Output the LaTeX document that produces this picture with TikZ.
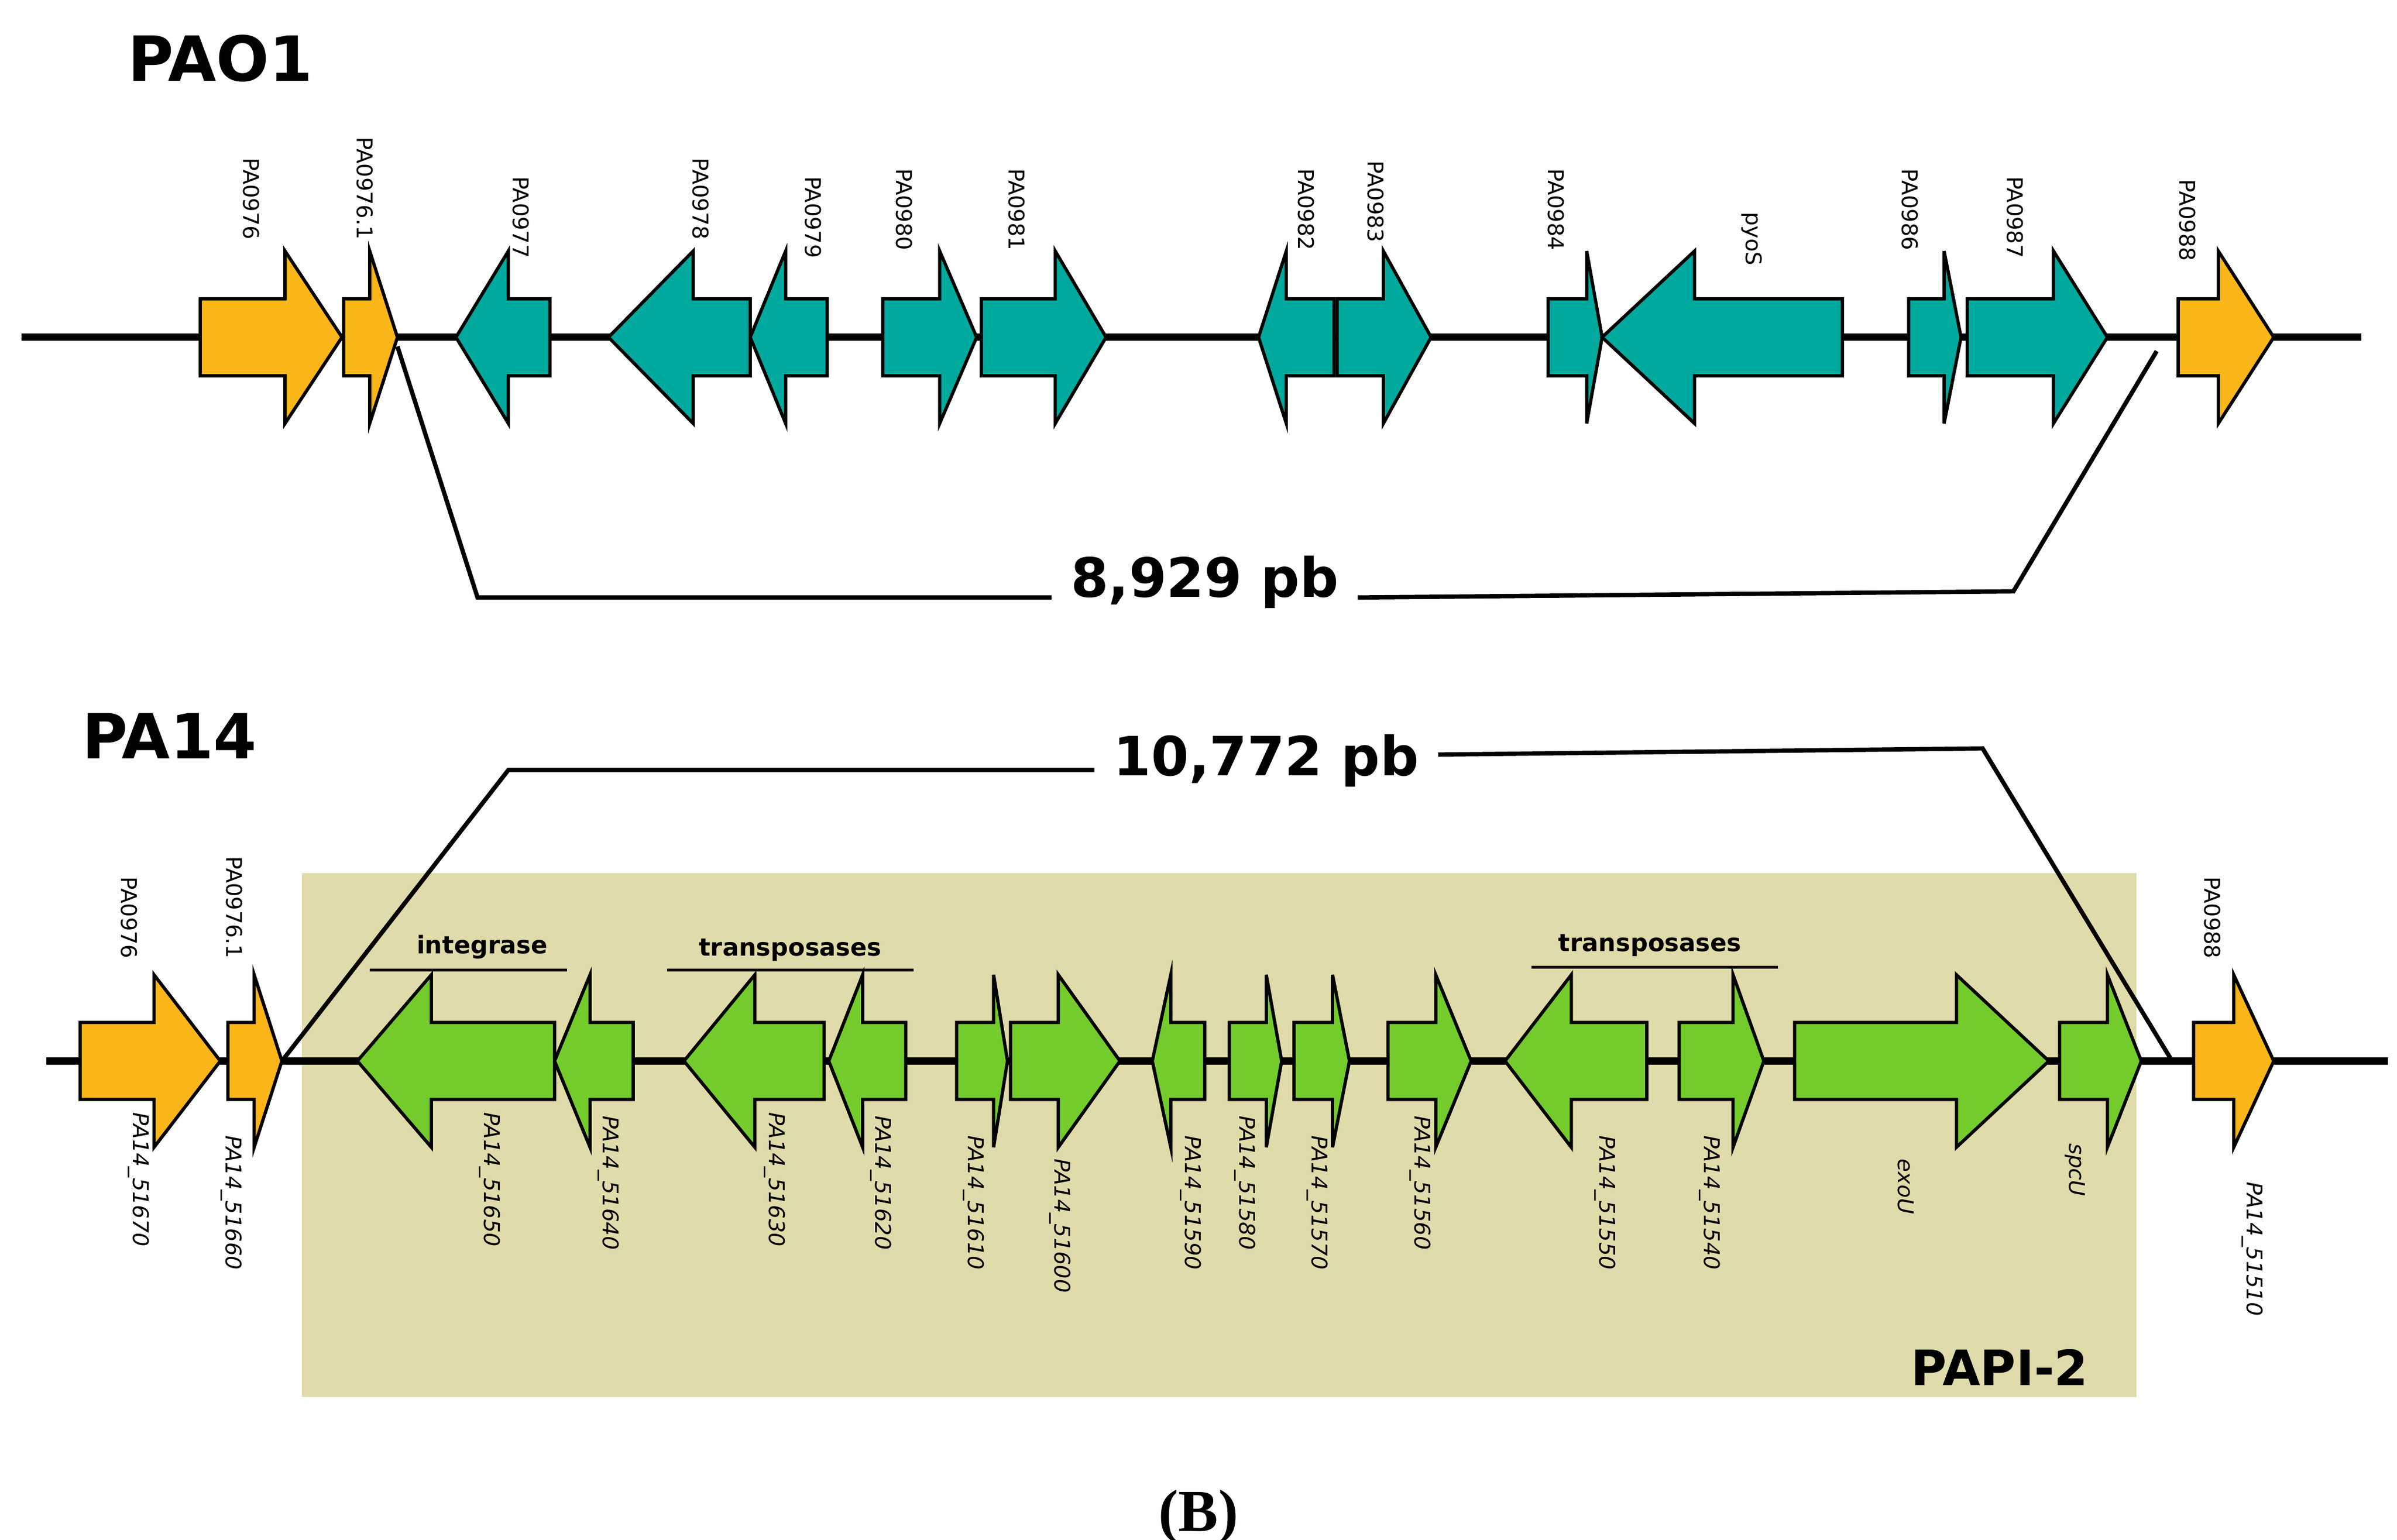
\documentclass[tikz,border=0pt]{standalone}
\usepackage{fontspec}
\setmainfont{DejaVu Sans}
\newfontfamily\serifB{Liberation Serif}
\begin{document}
\begin{tikzpicture}[x=0.01cm,y=-0.01cm,
  gl/.style={font=\fontsize{4}{4.5}\selectfont,rotate=-90,inner sep=0.5pt},
  glt/.style={gl,anchor=east},
  glb/.style={gl,anchor=west,font=\fontsize{4}{4.5}\selectfont\itshape},
  title/.style={font=\fontsize{11.5}{13}\bfseries},
  bp/.style={font=\fontsize{10}{12}\bfseries},
  grp/.style={font=\fontsize{4.5}{5}\bfseries},
  conn/.style={line width=0.8pt},
  axis/.style={line width=1.4pt},
  gout/.style={draw=black,line width=0.6pt,line join=miter}]
\definecolor{org}{HTML}{FBB61A}
\definecolor{teal}{HTML}{00A99D}
\definecolor{grn}{HTML}{74CC2C}
\definecolor{papi}{HTML}{E0DBAA}
\useasboundingbox (0,0) rectangle (1556,1000);
\newcommand{\geneR}[5]{\filldraw[gout,fill=#5] (#1,#4-25)--(#3,#4-25)--(#3,#4-56)--(#2,#4)--(#3,#4+56)--(#3,#4+25)--(#1,#4+25)--cycle;}
\newcommand{\geneL}[5]{\filldraw[gout,fill=#5] (#2,#4-25)--(#3,#4-25)--(#3,#4-56)--(#1,#4)--(#3,#4+56)--(#3,#4+25)--(#2,#4+25)--cycle;}

% ---------- PAO1 ----------
\node[title] (t1) at (143,38) {PAO1};
\draw[axis] (14,219) -- (1533,219);
\geneR{130}{222}{185}{219}{org}
\geneR{223}{258}{240}{219}{org}
\geneL{296}{357}{330}{219}{teal}
\geneL{395}{487}{450}{219}{teal}
\geneL{487}{537}{510}{219}{teal}
\geneR{573}{634}{610}{219}{teal}
\geneR{637}{718}{685}{219}{teal}
\geneL{817}{866}{835}{219}{teal}
\geneR{868}{929}{898}{219}{teal}
\geneR{1005}{1040}{1030}{219}{teal}
\geneL{1040}{1196}{1100}{219}{teal}
\geneR{1239}{1273}{1262}{219}{teal}
\geneR{1277}{1368}{1333}{219}{teal}
\geneR{1414}{1476}{1440}{219}{org}
\node[glt] at (163,158) {PA0976};
\node[glt] at (237,158) {PA0976.1};
\node[glt] at (338,170) {PA0977};
\node[glt] at (455,158) {PA0978};
\node[glt] at (528,170) {PA0979};
\node[glt] at (587,165) {PA0980};
\node[glt] at (660,165) {PA0981};
\node[glt] at (848,165) {PA0982};
\node[glt] at (893,160) {PA0983};
\node[glt] at (1010,165) {PA0984};
\node[glt] at (1137,175) {pyoS};
\node[glt] at (1240,165) {PA0986};
\node[glt] at (1308,170) {PA0987};
\node[glt] at (1420,172) {PA0988};
\node[bp] (b1) at (782,378) {8,929 pb};
\coordinate (a1) at (258,225);
\coordinate (a2) at (1400,228);
\draw[conn] (a1) -- (310,388) -- (b1.west|-0,388);
\draw[conn] (b1.east|-0,388) -- (1307,384) -- (a2);

% ---------- PA14 ----------
\fill[papi] (196,567) rectangle (1387,907);
\node[title] (t2) at (110,478) {PA14};
\node[font=\fontsize{9}{10}\bfseries,anchor=east] (t3) at (1368,888) {PAPI-2};
\draw[axis] (30,689) -- (1550,689);
\geneR{52}{143}{100}{689}{org}
\geneR{148}{183}{165}{689}{org}
\geneL{232}{360}{280}{689}{grn}
\geneL{360}{411}{383}{689}{grn}
\geneL{444}{535}{490}{689}{grn}
\geneL{538}{588}{560}{689}{grn}
\geneR{621}{654}{645}{689}{grn}
\geneR{656}{727}{687}{689}{grn}
\geneL{748}{782}{760}{689}{grn}
\geneR{798}{832}{822}{689}{grn}
\geneR{840}{876}{865}{689}{grn}
\geneR{901}{955}{932}{689}{grn}
\geneL{977}{1069}{1020}{689}{grn}
\geneR{1090}{1145}{1125}{689}{grn}
\geneR{1165}{1330}{1270}{689}{grn}
\geneR{1337}{1390}{1368}{689}{grn}
\geneR{1424}{1476}{1450}{689}{org}
\node[glt] at (84,625) {PA0976};
\node[glt] at (152,625) {PA0976.1};
\node[glt] at (1436,625) {PA0988};
\node[glb] at (90,720) {PA14\_51670};
\node[glb] at (150,735) {PA14\_51660};
\node[glb] at (318,720) {PA14\_51650};
\node[glb] at (395,722) {PA14\_51640};
\node[glb] at (503,720) {PA14\_51630};
\node[glb] at (572,722) {PA14\_51620};
\node[glb] at (632,735) {PA14\_51610};
\node[glb] at (688,750) {PA14\_51600};
\node[glb] at (773,735) {PA14\_51590};
\node[glb] at (808,722) {PA14\_51580};
\node[glb] at (855,735) {PA14\_51570};
\node[glb] at (922,722) {PA14\_51560};
\node[glb] at (1042,735) {PA14\_51550};
\node[glb] at (1110,735) {PA14\_51540};
\node[glb] at (1237,750) {exoU};
\node[glb] at (1347,740) {spcU};
\node[glb] at (1462,765) {PA14\_51510};
\node[grp] at (313,615) {integrase};
\draw[line width=0.5pt] (240,630) -- (368,630);
\node[grp] at (513,617) {transposases};
\draw[line width=0.5pt] (433,630) -- (593,630);
\node[grp] at (1071,614) {transposases};
\draw[line width=0.5pt] (994,628) -- (1154,628);
\node[bp] (b2) at (822,494) {10,772 pb};
\coordinate (c1) at (183,689);
\coordinate (c2) at (1410,689);
\draw[conn] (c1) -- (330,500) -- (b2.west|-0,500);
\draw[conn] (b2.east|-0,490) -- (1287,486) -- (c2);

\node[font=\fontsize{11}{12}\serifB\bfseries] (lb) at (778,985) {(B)};
\end{tikzpicture}
\end{document}
